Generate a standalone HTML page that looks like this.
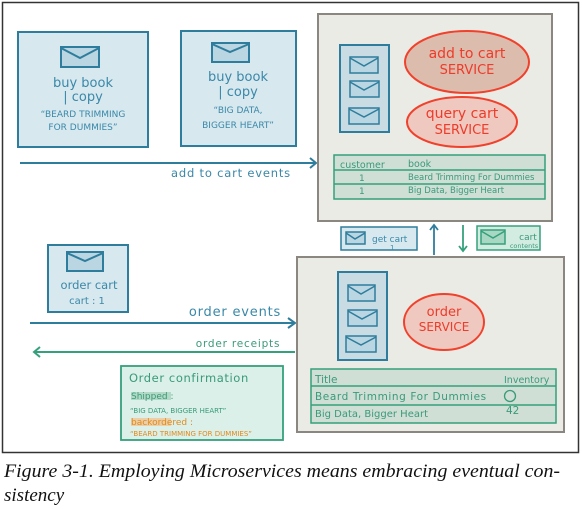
<!DOCTYPE html>
<html><head><meta charset="utf-8"><style>
html,body{margin:0;padding:0;background:#fff;width:582px;height:509px;overflow:hidden}
svg{display:block}
.h{font-family:"DejaVu Sans","Liberation Sans",sans-serif;font-weight:normal}
.cap{font-family:"Liberation Serif",serif;font-style:italic;font-size:19px;fill:#111}
</style></head><body>
<svg width="582" height="509" viewBox="0 0 582 509" xmlns="http://www.w3.org/2000/svg">
<rect x="2.5" y="2.5" width="576" height="450" fill="#fff" stroke="#333" stroke-width="1.5"/>
<g class="h">
<rect x="18" y="32" width="130" height="115" fill="#d7e8ef" stroke="#2f7d9c" stroke-width="2"/>
<rect x="61" y="47" width="38" height="20" fill="#b9d6e2" stroke="#2f7d9c" stroke-width="2"/><polyline points="61,48 80,58 99,48" fill="none" stroke="#2f7d9c" stroke-width="2"/>
<text x="83" y="87" font-size="13" fill="#3a88a8" text-anchor="middle">buy book</text>
<text x="83" y="101" font-size="13" fill="#3a88a8" text-anchor="middle">| copy</text>
<text x="83" y="117" font-size="9" fill="#3a88a8" text-anchor="middle">“BEARD TRIMMING</text>
<text x="83" y="130" font-size="9" fill="#3a88a8" text-anchor="middle">FOR DUMMIES”</text>
<rect x="181" y="31" width="115" height="115" fill="#d7e8ef" stroke="#2f7d9c" stroke-width="2"/>
<rect x="212" y="43" width="37" height="19" fill="#b9d6e2" stroke="#2f7d9c" stroke-width="2"/><polyline points="212,44 230,52 249,44" fill="none" stroke="#2f7d9c" stroke-width="2"/>
<text x="238" y="81" font-size="13" fill="#3a88a8" text-anchor="middle">buy book</text>
<text x="238" y="96" font-size="13" fill="#3a88a8" text-anchor="middle">| copy</text>
<text x="238" y="113" font-size="9" fill="#3a88a8" text-anchor="middle">“BIG DATA,</text>
<text x="238" y="128" font-size="9" fill="#3a88a8" text-anchor="middle">BIGGER HEART”</text>
<line x1="20" y1="163" x2="316" y2="163" stroke="#2f7d9c" stroke-width="2"/>
<polyline points="310,158 316,163 310,168" fill="none" stroke="#2f7d9c" stroke-width="2"/>
<text x="231" y="177" font-size="11.5" fill="#3a88a8" text-anchor="middle" letter-spacing="0.8">add to cart events</text>
<rect x="318" y="14" width="234" height="207" fill="#ebebe5" stroke="#8b8680" stroke-width="2"/>
<rect x="340" y="45" width="49" height="87" fill="#c9dbe3" stroke="#2f7d9c" stroke-width="2"/>
<rect x="350" y="57" width="28" height="16" fill="#b9d6e2" stroke="#2f7d9c" stroke-width="1.5"/><polyline points="350,58 364,66 378,58" fill="none" stroke="#2f7d9c" stroke-width="1.5"/>
<rect x="350" y="81" width="29" height="16" fill="#b9d6e2" stroke="#2f7d9c" stroke-width="1.5"/><polyline points="350,82 364,90 379,82" fill="none" stroke="#2f7d9c" stroke-width="1.5"/>
<rect x="349" y="108" width="30" height="16" fill="#b9d6e2" stroke="#2f7d9c" stroke-width="1.5"/><polyline points="349,109 364,117 379,109" fill="none" stroke="#2f7d9c" stroke-width="1.5"/>
<ellipse cx="467" cy="62" rx="62" ry="31" fill="#dcbcad" stroke="#f0412c" stroke-width="2"/>
<text x="467" y="58" font-size="14" fill="#ee3b2a" text-anchor="middle">add to cart</text>
<text x="467" y="74" font-size="13" fill="#ee3b2a" text-anchor="middle">SERVICE</text>
<ellipse cx="462" cy="122" rx="55" ry="25" fill="#efc8bf" stroke="#f0412c" stroke-width="2"/>
<text x="462" y="118" font-size="14" fill="#ee3b2a" text-anchor="middle">query cart</text>
<text x="462" y="134" font-size="13" fill="#ee3b2a" text-anchor="middle">SERVICE</text>
<rect x="334" y="155" width="211" height="44" fill="#cfdfd6" stroke="#35a07c" stroke-width="1.5"/>
<line x1="334" y1="170" x2="545" y2="170" stroke="#35a07c" stroke-width="1.5"/>
<line x1="334" y1="184" x2="545" y2="184" stroke="#35a07c" stroke-width="1.5"/>
<text x="340" y="168" font-size="9.5" fill="#3a9a7a">customer</text><text x="408" y="167" font-size="9.5" fill="#3a9a7a">book</text>
<text x="359" y="181" font-size="9" fill="#3a9a7a">1</text><text x="408" y="180" font-size="8.5" fill="#3a9a7a">Beard Trimming For Dummies</text>
<text x="359" y="194" font-size="9" fill="#3a9a7a">1</text><text x="408" y="193" font-size="8.5" fill="#3a9a7a">Big Data, Bigger Heart</text>
<rect x="341" y="227" width="76" height="23" fill="#d7e8ef" stroke="#2f7d9c" stroke-width="1.5"/>
<rect x="346" y="232" width="19" height="12" fill="#b9d6e2" stroke="#2f7d9c" stroke-width="1.5"/><polyline points="346,233 355,239 365,233" fill="none" stroke="#2f7d9c" stroke-width="1.5"/>
<text x="372" y="242" font-size="9" fill="#3a88a8">get cart</text><text x="390" y="250" font-size="7" fill="#3a88a8">1</text>
<line x1="434" y1="255" x2="434" y2="225" stroke="#2f7d9c" stroke-width="1.8"/><polyline points="430,230 434,225 438,230" fill="none" stroke="#2f7d9c" stroke-width="1.8"/>
<line x1="463" y1="225" x2="463" y2="251" stroke="#35a07c" stroke-width="1.8"/><polyline points="459,246 463,251 467,246" fill="none" stroke="#35a07c" stroke-width="1.8"/>
<rect x="477" y="226" width="63" height="24" fill="#d3ece2" stroke="#35a07c" stroke-width="1.5"/>
<rect x="481" y="230" width="24" height="14" fill="#a8d8c4" stroke="#35a07c" stroke-width="1.5"/><polyline points="481,231 493,238 505,231" fill="none" stroke="#35a07c" stroke-width="1.5"/>
<text x="528" y="240" font-size="9" fill="#3a9a7a" text-anchor="middle">cart</text><text x="524" y="248" font-size="6.5" fill="#3a9a7a" text-anchor="middle">contents</text>
<rect x="48" y="245" width="80" height="67" fill="#d7e8ef" stroke="#2f7d9c" stroke-width="2"/>
<rect x="67" y="252" width="36" height="19" fill="#b9d6e2" stroke="#2f7d9c" stroke-width="2"/><polyline points="67,253 85,261 103,253" fill="none" stroke="#2f7d9c" stroke-width="2"/>
<text x="89" y="289" font-size="11.5" fill="#3a88a8" text-anchor="middle">order cart</text>
<text x="87" y="304" font-size="10" fill="#3a88a8" text-anchor="middle">cart : 1</text>
<line x1="30" y1="323" x2="294" y2="323" stroke="#2f7d9c" stroke-width="2"/>
<polyline points="288,318 295,323 288,328" fill="none" stroke="#2f7d9c" stroke-width="2"/>
<text x="235" y="316" font-size="13" fill="#3a88a8" text-anchor="middle" letter-spacing="0.8">order events</text>
<line x1="34" y1="352" x2="295" y2="352" stroke="#35a07c" stroke-width="2"/>
<polyline points="40,347 34,352 40,357" fill="none" stroke="#35a07c" stroke-width="2"/>
<text x="238" y="347" font-size="10.5" fill="#3a9a7a" text-anchor="middle" letter-spacing="0.8">order receipts</text>
<rect x="121" y="366" width="162" height="74" fill="#dbf0e8" stroke="#35a07c" stroke-width="1.8"/>
<text x="129" y="382" font-size="11.5" fill="#3a9a7a" letter-spacing="0.6">Order confirmation</text>
<rect x="131" y="392" width="40" height="8" fill="#9fcfb8" opacity="0.7"/>
<text x="131" y="399" font-size="9" fill="#3a9a7a">Shipped :</text>
<text x="130" y="413" font-size="7" fill="#3a9a7a">“BIG DATA, BIGGER HEART”</text>
<rect x="131" y="418" width="40" height="8" fill="#f3c08a" opacity="0.7"/>
<text x="131" y="425" font-size="9" fill="#e08a1e">backordered :</text>
<text x="130" y="436" font-size="7" fill="#e08a1e">“BEARD TRIMMING FOR DUMMIES”</text>
<rect x="297" y="257" width="267" height="175" fill="#ebebe5" stroke="#8b8680" stroke-width="2"/>
<rect x="338" y="272" width="49" height="88" fill="#c9dbe3" stroke="#2f7d9c" stroke-width="2"/>
<rect x="348" y="285" width="27" height="16" fill="#b9d6e2" stroke="#2f7d9c" stroke-width="1.5"/><polyline points="348,286 361,294 375,286" fill="none" stroke="#2f7d9c" stroke-width="1.5"/>
<rect x="348" y="310" width="29" height="16" fill="#b9d6e2" stroke="#2f7d9c" stroke-width="1.5"/><polyline points="348,311 362,319 377,311" fill="none" stroke="#2f7d9c" stroke-width="1.5"/>
<rect x="346" y="336" width="30" height="16" fill="#b9d6e2" stroke="#2f7d9c" stroke-width="1.5"/><polyline points="346,337 361,345 376,337" fill="none" stroke="#2f7d9c" stroke-width="1.5"/>
<ellipse cx="444" cy="322" rx="40" ry="28" fill="#efc8bf" stroke="#f0412c" stroke-width="2"/>
<text x="444" y="316" font-size="13" fill="#ee3b2a" text-anchor="middle">order</text>
<text x="444" y="331" font-size="12" fill="#ee3b2a" text-anchor="middle">SERVICE</text>
<rect x="311" y="369" width="245" height="54" fill="#cfdfd6" stroke="#35a07c" stroke-width="1.5"/>
<line x1="311" y1="386" x2="556" y2="386" stroke="#35a07c" stroke-width="1.5"/>
<line x1="311" y1="405" x2="556" y2="405" stroke="#35a07c" stroke-width="1.5"/>
<text x="315" y="383" font-size="10.5" fill="#3a9a7a">Title</text><text x="504" y="383" font-size="9.5" fill="#3a9a7a">Inventory</text>
<text x="315" y="400" font-size="10.5" fill="#3a9a7a" letter-spacing="0.6">Beard Trimming For Dummies</text>
<circle cx="510" cy="396" r="5.5" fill="none" stroke="#3a9a7a" stroke-width="1.3"/>
<text x="315" y="417" font-size="10" fill="#3a9a7a">Big Data, Bigger Heart</text>
<text x="506" y="414" font-size="10.5" fill="#3a9a7a">42</text>
</g>
<text class="cap" x="4" y="477" textLength="556" lengthAdjust="spacingAndGlyphs">Figure 3-1. Employing Microservices means embracing eventual con-</text>
<text class="cap" x="4" y="501">sistency</text>
</svg>
</body></html>
